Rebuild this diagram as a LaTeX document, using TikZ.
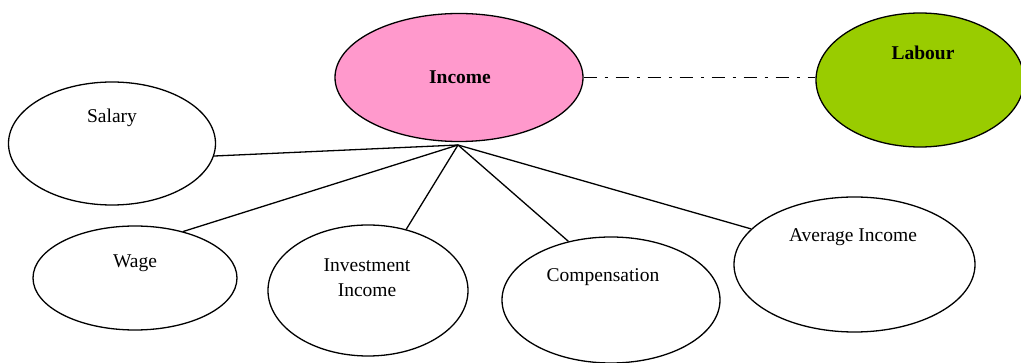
\documentclass[tikz,border=0pt]{standalone}
\usepackage{fontspec}
\setmainfont{Liberation Serif}
\usetikzlibrary{shapes.geometric}

\definecolor{incomepink}{HTML}{FF99CC}
\definecolor{labourgreen}{HTML}{99CC00}

\tikzset{
  bubble/.style={draw, ellipse, line width=1.3pt, inner sep=0pt},
  word/.style={font=\fontsize{19.5}{25}\selectfont, align=center, inner sep=0pt},
  strong/.style={font=\fontsize{19.5}{25}\selectfont\bfseries, inner sep=0pt},
  spoke/.style={line width=1.3pt}
}

\begin{document}
\begin{tikzpicture}[x=1pt,y=-1pt]

\useasboundingbox (0,0) rectangle (1021,363);

% Ellissi in alto
\node[bubble, fill=incomepink, minimum width=248pt, minimum height=128pt] (income) at (459,77.5) {};
\node[bubble, fill=labourgreen, minimum width=208pt, minimum height=134pt] (labour) at (920,80) {};

% Ellissi dei tipi di reddito
\node[bubble, minimum width=207pt, minimum height=123pt] (salary) at (112,143.5) {};
\node[bubble, minimum width=204pt, minimum height=104pt] (wage) at (135,278) {};
\node[bubble, minimum width=200pt, minimum height=131pt] (investment) at (368,290.5) {};
\node[bubble, minimum width=218pt, minimum height=126pt] (compensation) at (611,300) {};
\node[bubble, minimum width=241pt, minimum height=135pt] (average) at (854.5,264.5) {};

% Testi
\node[strong] (income text) at (460,77) {Income};
\node[strong] (labour text) at (923,53) {Labour};
\node[word] (salary text) at (112,118) {Salary};
\node[word] (wage text) at (135,263) {Wage};
\node[word] (investment text) at (367,277.5) {Investment\\Income};
\node[word] (compensation text) at (603,277) {Compensation};
\node[word] (average text) at (853,237) {Average Income};

% Punto di raccordo
\coordinate (hub) at (458,145);

% Linee
\draw[spoke] (hub) -- (salary.-7);
\draw[spoke] (hub) -- (wage.44);
\draw[spoke] (hub) -- (investment.58);
\draw[spoke] (hub) -- (compensation.126);
\draw[spoke] (hub) -- (average.161);

% Linea tratteggiata
\draw[spoke, dash pattern=on 13pt off 8pt on 3pt off 8pt] (income.east) -- (income.east -| labour.west);

\end{tikzpicture}
\end{document}
